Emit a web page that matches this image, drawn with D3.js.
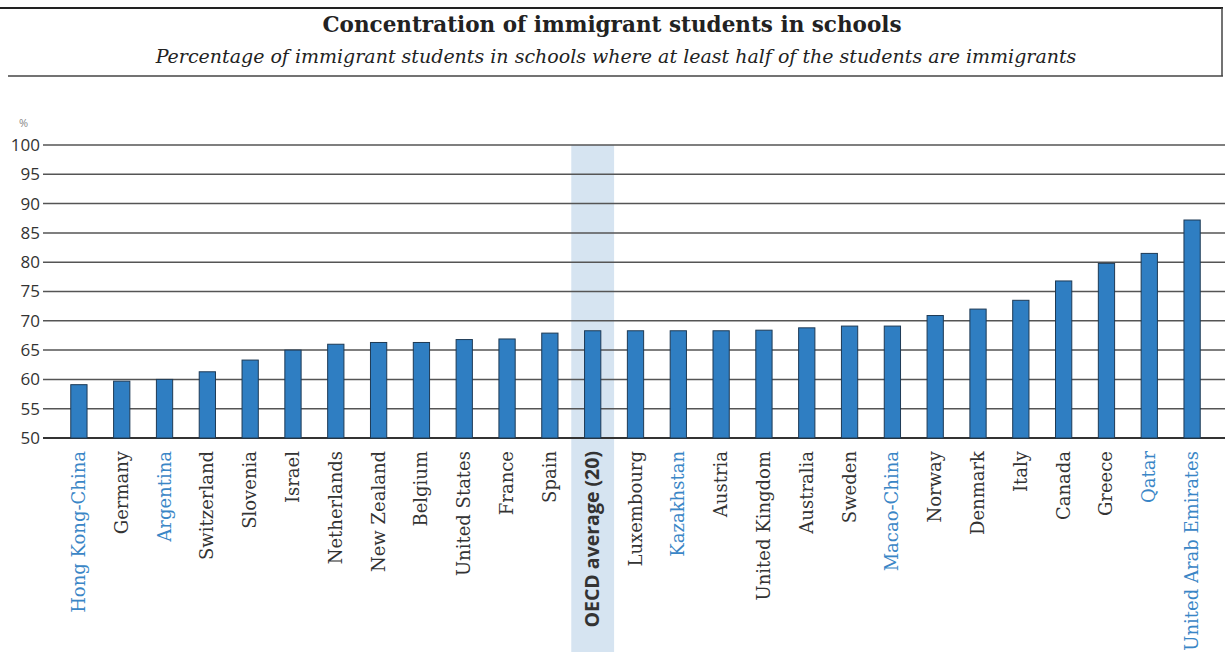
<!DOCTYPE html>
<html>
<head>
<meta charset="utf-8">
<script src="https://cdn.jsdelivr.net/npm/d3@7"></script>
<style>
  body { margin: 0; background: #fff; }
  svg { display: block; }
</style>
</head>
<body>
<svg width="1225" height="652"></svg>
<script>
// data
let countries = ["Hong Kong-China", "Germany", "Argentina", "Switzerland", "Slovenia", "Israel",
  "Netherlands", "New Zealand", "Belgium", "United States", "France", "Spain", "OECD average (20)",
  "Luxembourg", "Kazakhstan", "Austria", "United Kingdom", "Australia", "Sweden", "Macao-China",
  "Norway", "Denmark", "Italy", "Canada", "Greece", "Qatar", "United Arab Emirates"];
let values = [59.1, 59.7, 60.0, 61.3, 63.3, 65.0, 66.0, 66.3, 66.3, 66.8, 66.9, 67.9, 68.3,
  68.3, 68.3, 68.3, 68.4, 68.8, 69.1, 69.1, 70.9, 72.0, 73.5, 76.8, 79.8, 81.5, 87.2];
let partners = ["Hong Kong-China", "Argentina", "Kazakhstan", "Macao-China", "Qatar", "United Arab Emirates"];
let average = "OECD average (20)";
let yTicks = [50, 55, 60, 65, 70, 75, 80, 85, 90, 95, 100];

let svg = d3.select("svg");

// header box
svg.append("line").attr("x1", 0).attr("x2", 1223).attr("y1", 8).attr("y2", 8)
  .attr("stroke", "#222").attr("stroke-width", 2);
svg.append("line").attr("x1", 1222).attr("x2", 1222).attr("y1", 8).attr("y2", 76)
  .attr("stroke", "#444").attr("stroke-width", 1.5);
svg.append("line").attr("x1", 8).attr("x2", 1223).attr("y1", 76).attr("y2", 76)
  .attr("stroke", "#444").attr("stroke-width", 1.5);

svg.append("text").attr("x", 612).attr("y", 32)
  .attr("text-anchor", "middle")
  .style("font-family", "'DejaVu Serif', serif").style("font-weight", "bold")
  .style("font-size", "21.5px").attr("fill", "#222")
  .text("Concentration of immigrant students in schools");
svg.append("text").attr("x", 616).attr("y", 63)
  .attr("text-anchor", "middle")
  .style("font-family", "'DejaVu Serif', serif").style("font-style", "italic")
  .style("font-size", "19px").attr("fill", "#222")
  .text("Percentage of immigrant students in schools where at least half of the students are immigrants");

let margin = { left: 45, top: 145, bottom: 214 };
let plotHeight = 652 - margin.top - margin.bottom;

let x = d3.scaleBand()
  .domain(countries)
  .range([57.5, 1213.5])
  .paddingInner(0.62)
  .paddingOuter(0.31);

let y = d3.scaleLinear()
  .domain([50, 100])
  .range([margin.top + plotHeight, margin.top]);

// OECD average highlight
let step = x.step();
svg.append("rect")
  .attr("x", x(average) + x.bandwidth() / 2 - step / 2)
  .attr("y", y(100))
  .attr("width", step)
  .attr("height", 652 - y(100))
  .attr("fill", "#d6e4f1");

// y axis labels
let yAxis = d3.axisLeft(y).tickValues(yTicks).tickSize(0).tickPadding(5);
let yGroup = svg.append("g").attr("transform", "translate(" + margin.left + ",0)").call(yAxis);
yGroup.select(".domain").remove();
yGroup.selectAll("text")
  .style("font-family", "'Open Sans', sans-serif").style("font-size", "17px").attr("fill", "#333");

// gridlines
svg.append("g").selectAll("line")
  .data(yTicks)
  .join("line")
  .attr("x1", margin.left - 2).attr("x2", 1225)
  .attr("y1", d => y(d)).attr("y2", d => y(d))
  .attr("stroke", d => d == 50 ? "#333" : "#555")
  .attr("stroke-width", d => d == 50 ? 2 : 1.5);

svg.append("text").attr("x", 19).attr("y", 127)
  .style("font-family", "'Open Sans', sans-serif").style("font-size", "11px")
  .attr("fill", "#888").text("%");

// bars
svg.append("g").selectAll("rect")
  .data(values)
  .join("rect")
  .attr("x", (d, i) => x(countries[i]))
  .attr("y", d => y(d))
  .attr("width", x.bandwidth())
  .attr("height", d => y(50) - y(d))
  .attr("fill", "#2f7ec2")
  .attr("stroke", "#1e3a55")
  .attr("stroke-width", 1);

// category labels
svg.append("g").selectAll("text")
  .data(countries)
  .join("text")
  .attr("transform", d => "translate(" + (x(d) + x.bandwidth() / 2 + 6) + "," + (y(50) + 13) + ") rotate(-90)")
  .attr("text-anchor", "end")
  .style("font-family", d => d == average ? "'Open Sans', sans-serif" : "'DejaVu Serif', serif")
  .style("font-weight", d => d == average ? "bold" : "normal")
  .style("font-size", d => d == average ? "19.5px" : "18px")
  .attr("fill", d => partners.includes(d) ? "#3a86c6" : "#333")
  .text(d => d);
</script>
</body>
</html>
